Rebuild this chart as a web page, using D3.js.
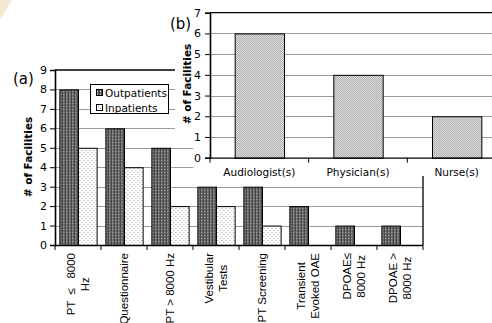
<!DOCTYPE html>
<html><head><meta charset="utf-8">
<script src="https://cdn.jsdelivr.net/npm/d3@7"></script>
<style>
html,body{margin:0;padding:0;background:#fff;}
svg{display:block;}
</style></head>
<body>
<svg id="c" width="492" height="323"></svg>
<script>
// ---- data ----
const testCategories = ["PT  ≤   8000|Hz","Questionnaire","PT > 8000 Hz","Vestibular|Tests","PT Screening","Transient|Evoked OAE","DPOAE≤|8000 Hz","DPOAE >|8000 Hz"];
const outpatients = [8,6,5,3,3,2,1,1];
const inpatients  = [5,4,2,2,1,0,0,0];
const seriesNames = ["Outpatients","Inpatients"];
const yTicksA = [0,1,2,3,4,5,6,7,8,9];
const staffCategories = ["Audiologist(s)","Physician(s)","Nurse(s)"];
const staffCounts = [6,4,2];
const yTicksB = [0,1,2,3,4,5,6,7];

const svg = d3.select("#c");
const defs = svg.append("defs");

// patterns
const pd = defs.append("pattern").attr("id","pDark").attr("patternUnits","userSpaceOnUse").attr("width",3).attr("height",3);
pd.append("rect").attr("width",3).attr("height",3).attr("fill","#474747");
pd.append("rect").attr("x",1).attr("width",1).attr("height",3).attr("fill","#8c8c8c");
pd.append("rect").attr("x",1).attr("y",1).attr("width",1).attr("height",1).attr("fill","#cfcfcf");
const pl = defs.append("pattern").attr("id","pDots").attr("patternUnits","userSpaceOnUse").attr("width",4).attr("height",4);
pl.append("rect").attr("width",4).attr("height",4).attr("fill","#fff");
pl.append("rect").attr("x",0).attr("y",0).attr("width",1).attr("height",1).attr("fill","#999");
pl.append("rect").attr("x",2).attr("y",2).attr("width",1).attr("height",1).attr("fill","#999");
const pg = defs.append("pattern").attr("id","pGray").attr("patternUnits","userSpaceOnUse").attr("width",2).attr("height",2);
pg.append("rect").attr("width",2).attr("height",2).attr("fill","#dcdcdc");
pg.append("rect").attr("x",0).attr("y",0).attr("width",1).attr("height",1).attr("fill","#b0b0b0");
pg.append("rect").attr("x",1).attr("y",1).attr("width",1).attr("height",1).attr("fill","#b0b0b0");
const patterns = ["url(#pDark)","url(#pDots)"];

// corner artifact
svg.append("polygon").attr("points","0,0 12,0 0,20").attr("fill","#f4e8d0");

const sansV = "DejaVu Sans, Verdana, sans-serif";
const sansA = "Liberation Sans, Arial, sans-serif";

// ================= chart (a) =================
const xA = d3.scaleBand().domain(testCategories).range([55,423]).paddingInner(0.19).paddingOuter(0.095);
const xSub = d3.scaleBand().domain(seriesNames).range([0,xA.bandwidth()]);
const yA = d3.scaleLinear().domain([0,9]).range([245,70]);
const gA = svg.append("g");

// gridlines
gA.append("g").selectAll("line").data(yTicksA.filter(d=>d>0&&d<9)).join("line")
  .attr("x1",55).attr("x2",423).attr("y1",d=>Math.round(yA(d))+0.5).attr("y2",d=>Math.round(yA(d))+0.5)
  .attr("stroke","#9a9a9a").attr("stroke-width",1);
// top & right border
gA.append("line").attr("x1",55).attr("x2",423).attr("y1",yA(9)).attr("y2",yA(9)).attr("stroke","#000").attr("stroke-width",1.3);
gA.append("line").attr("x1",423).attr("x2",423).attr("y1",yA(9)).attr("y2",yA(0)).attr("stroke","#000").attr("stroke-width",1.3);

// bars
const rows = testCategories.map((c,i)=>({c, vals:[outpatients[i],inpatients[i]]}));
gA.append("g").selectAll("g").data(rows).join("g")
  .attr("transform",d=>`translate(${xA(d.c)},0)`)
  .selectAll("rect").data(d=>d.vals.map((v,j)=>({v,s:seriesNames[j],j})).filter(e=>e.v>0)).join("rect")
  .attr("x",e=>xSub(e.s)+0.5).attr("width",xSub.bandwidth())
  .attr("y",e=>yA(e.v)+0.5).attr("height",e=>yA(0)-yA(e.v))
  .attr("fill",e=>patterns[e.j]).attr("stroke","#000").attr("stroke-width",1);

// y axis
const axA = gA.append("g").attr("transform","translate(55,0)")
  .call(d3.axisLeft(yA).tickValues(yTicksA).tickSize(5).tickPadding(3).tickFormat(d3.format("d")));
axA.select(".domain").attr("stroke","#000").attr("stroke-width",1.6);
axA.selectAll(".tick line").attr("stroke","#000");
axA.selectAll("text").attr("font-family",sansV).attr("font-size","11px").attr("fill","#000");

// x axis line & ticks at category boundaries
gA.append("line").attr("x1",55).attr("x2",423).attr("y1",yA(0)+0.5).attr("y2",yA(0)+0.5).attr("stroke","#000").attr("stroke-width",1.3);
gA.append("g").selectAll("line").data(d3.range(testCategories.length+1)).join("line")
  .attr("x1",i=>55+i*xA.step()).attr("x2",i=>55+i*xA.step())
  .attr("y1",yA(0)).attr("y2",yA(0)+5).attr("stroke","#000").attr("stroke-width",1);

// x labels rotated
const lineGap = 14.5;
testCategories.forEach(c=>{
  const lines = c.split("|");
  const cx = xA(c)+xA.bandwidth()/2;
  const widths = lines.map(t=>{
    const el = gA.append("text").attr("font-family",sansA).attr("font-size","11.5px").style("white-space","pre").text(t);
    const w = el.node().getComputedTextLength(); el.remove(); return w;});
  const maxW = d3.max(widths);
  const cy = 253 + maxW/2;
  lines.forEach((t,i)=>{
    const lx = cx + (i-(lines.length-1)/2)*lineGap;
    gA.append("text").attr("transform",`translate(${lx},${cy}) rotate(-90)`)
      .attr("text-anchor","middle").attr("dy","0.35em")
      .attr("font-family",sansA).attr("font-size","11.5px")
      .style("white-space","pre").attr("fill","#000").text(t);
  });
});

// y title
gA.append("text").attr("transform","translate(28,157) rotate(-90)").attr("text-anchor","middle").attr("dy","0.35em")
  .attr("font-family",sansV).attr("font-weight","bold").attr("font-size","10.5px").text("# of Facilities");
// panel label
gA.append("text").attr("x",13).attr("y",84).attr("font-family",sansV).attr("font-size","15px").text("(a)");

// legend
const lg = gA.append("g");
lg.append("rect").attr("x",90.5).attr("y",84.5).attr("width",78).attr("height",29).attr("fill","#fff").attr("stroke","#000").attr("stroke-width",1);
seriesNames.forEach((s,i)=>{
  lg.append("rect").attr("x",96.5).attr("y",89.5+i*15).attr("width",6).attr("height",6).attr("fill",patterns[i]).attr("stroke","#000");
  lg.append("text").attr("x",105).attr("y",96.5+i*15).attr("font-family",sansV).attr("font-size","10.5px").text(s);
});

// ================= chart (b) =================
const gB = svg.append("g");
gB.append("rect").attr("x",193).attr("y",0).attr("width",299).attr("height",176).attr("fill","#fff");
gB.append("rect").attr("x",175).attr("y",0).attr("width",18).attr("height",140).attr("fill","#fff");
const xB = d3.scaleBand().domain(staffCategories).range([210,506]).paddingInner(0.5).paddingOuter(0.25);
const yB = d3.scaleLinear().domain([0,7]).range([157.7,12.7]);

gB.append("g").selectAll("line").data(yTicksB.filter(d=>d>0&&d<7)).join("line")
  .attr("x1",210).attr("x2",492).attr("y1",d=>Math.round(yB(d))+0.5).attr("y2",d=>Math.round(yB(d))+0.5)
  .attr("stroke","#9a9a9a");
gB.append("line").attr("x1",210).attr("x2",492).attr("y1",yB(7)).attr("y2",yB(7)).attr("stroke","#000").attr("stroke-width",1.3);

gB.append("g").selectAll("rect").data(staffCategories.map((c,i)=>({c,v:staffCounts[i]}))).join("rect")
  .attr("x",d=>xB(d.c)+0.5).attr("width",xB.bandwidth())
  .attr("y",d=>yB(d.v)+0.5).attr("height",d=>yB(0)-yB(d.v))
  .attr("fill","url(#pGray)").attr("stroke","#000");

const axB = gB.append("g").attr("transform","translate(210,0)")
  .call(d3.axisLeft(yB).tickValues(yTicksB).tickSize(5).tickPadding(4).tickFormat(d3.format("d")));
axB.select(".domain").attr("stroke","#000").attr("stroke-width",1.6);
axB.selectAll(".tick line").attr("stroke","#000");
axB.selectAll("text").attr("font-family",sansV).attr("font-size","11px").attr("fill","#000");

gB.append("line").attr("x1",210).attr("x2",492).attr("y1",yB(0)+0.5).attr("y2",yB(0)+0.5).attr("stroke","#000").attr("stroke-width",1.3);
gB.append("g").selectAll("line").data(d3.range(staffCategories.length+1)).join("line")
  .attr("x1",i=>210+i*xB.step()).attr("x2",i=>210+i*xB.step())
  .attr("y1",yB(0)).attr("y2",yB(0)+5).attr("stroke","#000");

gB.append("g").selectAll("text").data(staffCategories).join("text")
  .attr("x",d=>xB(d)+xB.bandwidth()/2).attr("y",175.5).attr("text-anchor","middle")
  .attr("font-family",sansV).attr("font-size","10.5px").text(d=>d);

gB.append("text").attr("transform","translate(187,84) rotate(-90)").attr("text-anchor","middle").attr("dy","0.35em")
  .attr("font-family",sansV).attr("font-weight","bold").attr("font-size","10.5px").text("# of Facilities");
gB.append("text").attr("x",170).attr("y",29).attr("font-family",sansV).attr("font-size","15px").text("(b)");
</script>
</body></html>
